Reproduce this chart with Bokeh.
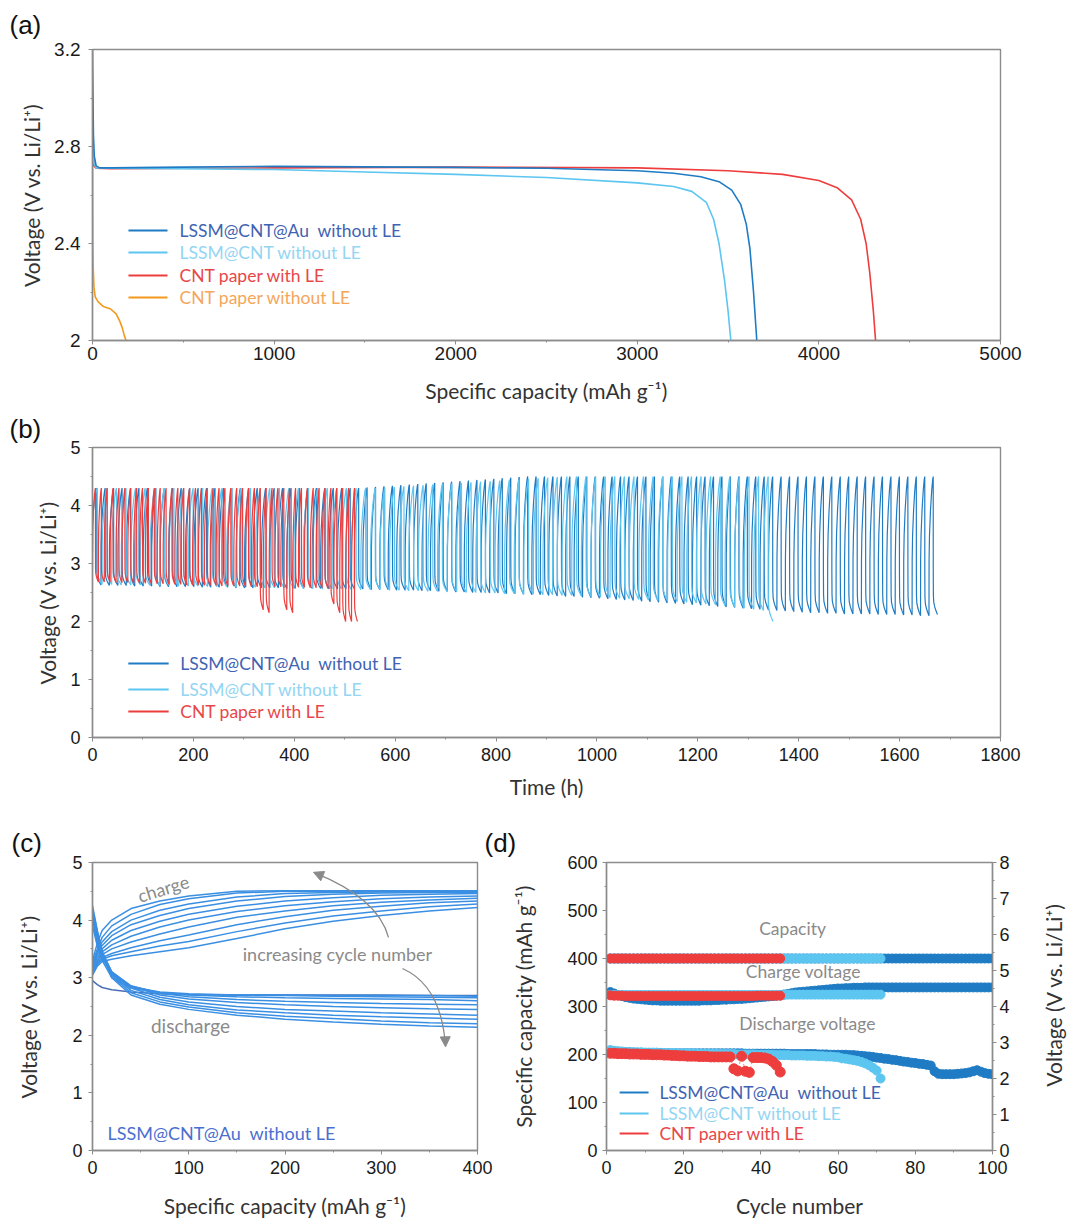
import math
from bokeh.plotting import figure
from bokeh.layouts import column, row
from bokeh.models import Range1d, LinearAxis, Label, FixedTicker, Arrow, NormalHead
from bokeh.embed import file_html
from bokeh.resources import INLINE

# ======================= DATA =======================
# (a) first discharge profiles: capacity (mAh/g) vs voltage (V)
a_au_cap = [0, 2, 5, 10, 20, 40, 100, 500, 1000, 1500, 2000, 2500, 3000, 3200, 3350, 3450, 3520, 3570, 3600, 3620, 3640, 3658]
a_au_v = [3.2, 3.05, 2.85, 2.76, 2.72, 2.712, 2.712, 2.715, 2.718, 2.716, 2.714, 2.71, 2.70, 2.69, 2.675, 2.655, 2.62, 2.56, 2.48, 2.38, 2.2, 2.0]
a_cnt_cap = [0, 3, 8, 20, 100, 500, 1000, 1500, 2000, 2500, 3000, 3200, 3300, 3380, 3420, 3450, 3480, 3500, 3515]
a_cnt_v = [2.95, 2.8, 2.73, 2.712, 2.71, 2.708, 2.705, 2.695, 2.685, 2.672, 2.65, 2.635, 2.615, 2.57, 2.5, 2.4, 2.25, 2.12, 2.0]
a_le_cap = [0, 3, 8, 20, 100, 1000, 2000, 3000, 3500, 3800, 4000, 4100, 4180, 4230, 4260, 4280, 4300, 4312]
a_le_v = [2.9, 2.78, 2.72, 2.71, 2.708, 2.712, 2.715, 2.712, 2.70, 2.685, 2.66, 2.63, 2.58, 2.5, 2.4, 2.28, 2.12, 2.0]
a_noLE_cap = [0, 1, 2, 4, 8, 15, 30, 60, 100, 130, 150, 165, 175, 185]
a_noLE_v = [2.8, 2.6, 2.4, 2.3, 2.22, 2.18, 2.16, 2.14, 2.13, 2.11, 2.08, 2.05, 2.02, 2.0]

# (b) cycling vs time: per-cycle charge-end (top) and discharge-end (bottom) voltages
b_au_period_h = 16.75
b_au_top = [4.30] * 32 + [4.31, 4.32, 4.33, 4.34, 4.35, 4.36, 4.37, 4.38, 4.39, 4.40, 4.41,
                          4.42, 4.43, 4.44, 4.45, 4.46, 4.47, 4.48, 4.49, 4.50, 4.50, 4.50] + [4.50] * 46
b_au_bottom = [2.63, 2.62, 2.62, 2.62, 2.61, 2.61, 2.61, 2.60, 2.60, 2.60,
               2.60, 2.60, 2.59, 2.59, 2.59, 2.59, 2.58, 2.58, 2.58, 2.58,
               2.58, 2.58, 2.57, 2.57, 2.57, 2.57, 2.57, 2.56, 2.56, 2.56,
               2.56, 2.56, 2.55, 2.55, 2.55, 2.54, 2.54, 2.54, 2.53, 2.53,
               2.52, 2.52, 2.51, 2.51, 2.50, 2.50, 2.49, 2.49, 2.48, 2.48,
               2.47, 2.46, 2.46, 2.45, 2.44, 2.43, 2.43, 2.42, 2.41, 2.40,
               2.39, 2.38, 2.37, 2.36, 2.35, 2.34, 2.33, 2.32, 2.31, 2.30,
               2.29, 2.28, 2.27, 2.26, 2.25, 2.24, 2.23, 2.22, 2.21, 2.20,
               2.19, 2.18, 2.17, 2.16, 2.15, 2.15, 2.14, 2.14, 2.13, 2.13,
               2.13, 2.13, 2.12, 2.12, 2.12, 2.11, 2.11, 2.10, 2.10, 2.12]
b_cnt_period_h = 19.0
b_cnt_top = [4.30] * 30 + [4.31, 4.32, 4.33, 4.34, 4.35, 4.36, 4.37, 4.38, 4.39, 4.40,
                           4.41, 4.42, 4.43, 4.44, 4.45, 4.46, 4.47, 4.48, 4.49, 4.50] + [4.50] * 21
b_cnt_bottom = [2.64, 2.64, 2.63, 2.63, 2.63, 2.62, 2.62, 2.62, 2.61, 2.61,
                2.61, 2.60, 2.60, 2.60, 2.59, 2.59, 2.59, 2.58, 2.58, 2.58,
                2.57, 2.57, 2.57, 2.56, 2.56, 2.56, 2.55, 2.55, 2.55, 2.55,
                2.54, 2.54, 2.53, 2.53, 2.52, 2.52, 2.51, 2.51, 2.50, 2.50,
                2.49, 2.49, 2.48, 2.48, 2.47, 2.47, 2.46, 2.46, 2.45, 2.45,
                2.44, 2.43, 2.42, 2.41, 2.40, 2.39, 2.38, 2.37, 2.36, 2.35,
                2.34, 2.33, 2.32, 2.30, 2.29, 2.27, 2.25, 2.23, 2.21, 2.19, 2.00]
b_le_period_h = 11.67
b_le_top = [4.30] * 45
b_le_bottom = [2.68, 2.68, 2.68, 2.67, 2.67, 2.67, 2.66, 2.66, 2.66, 2.65,
               2.65, 2.65, 2.64, 2.64, 2.64, 2.63, 2.63, 2.63, 2.62, 2.62,
               2.62, 2.61, 2.61, 2.61, 2.61, 2.60, 2.60, 2.60, 2.20, 2.15,
               2.60, 2.60, 2.20, 2.15, 2.59, 2.59, 2.58, 2.58, 2.58, 2.57,
               2.30, 2.15, 2.00, 2.00, 2.00]
# shape of one cycle: fraction of cycle time and fraction of voltage swing
cyc_charge_t = [0.0, 0.01, 0.06, 0.18, 0.32, 0.44, 0.5]
cyc_charge_f = [0.0, 0.40, 0.58, 0.76, 0.90, 0.98, 1.0]
cyc_dis_t = [0.505, 0.52, 0.56, 0.68, 0.84, 1.0]
cyc_dis_f = [0.30, 0.14, 0.09, 0.055, 0.025, 0.0]

# (c) selected charge / discharge curves of LSSM@CNT@Au without LE
c_cap = [0, 5, 10, 20, 40, 70, 100, 150, 200, 250, 300, 350, 400]
c_charge = [
    [3.05, 3.20, 3.28, 3.32, 3.38, 3.45, 3.52, 3.68, 3.85, 3.98, 4.08, 4.16, 4.22],
    [3.05, 3.22, 3.32, 3.38, 3.45, 3.55, 3.63, 3.80, 3.95, 4.07, 4.16, 4.23, 4.28],
    [3.10, 3.25, 3.35, 3.42, 3.52, 3.64, 3.74, 3.92, 4.06, 4.17, 4.24, 4.30, 4.33],
    [3.10, 3.28, 3.40, 3.50, 3.62, 3.76, 3.88, 4.05, 4.16, 4.25, 4.31, 4.35, 4.38],
    [3.15, 3.30, 3.45, 3.57, 3.72, 3.88, 4.00, 4.15, 4.25, 4.32, 4.37, 4.40, 4.42],
    [3.15, 3.35, 3.50, 3.65, 3.82, 3.98, 4.10, 4.24, 4.33, 4.39, 4.43, 4.45, 4.46],
    [3.20, 3.40, 3.56, 3.73, 3.92, 4.08, 4.20, 4.33, 4.41, 4.45, 4.47, 4.48, 4.48],
    [3.20, 3.45, 3.62, 3.80, 4.00, 4.17, 4.28, 4.40, 4.46, 4.48, 4.49, 4.49, 4.50],
    [3.25, 3.50, 3.70, 3.90, 4.10, 4.27, 4.37, 4.47, 4.50, 4.50, 4.50, 4.50, 4.50],
    [3.30, 3.60, 3.82, 4.00, 4.20, 4.33, 4.42, 4.50, 4.51, 4.51, 4.51, 4.51, 4.51],
]
c_discharge = [
    [2.95, 2.88, 2.83, 2.79, 2.75, 2.72, 2.71, 2.70, 2.70, 2.70, 2.70, 2.69, 2.69],
    [3.90, 3.55, 3.30, 3.00, 2.82, 2.74, 2.71, 2.70, 2.70, 2.69, 2.69, 2.69, 2.68],
    [4.00, 3.60, 3.35, 3.05, 2.84, 2.75, 2.72, 2.70, 2.69, 2.68, 2.67, 2.66, 2.65],
    [4.05, 3.65, 3.40, 3.08, 2.85, 2.74, 2.70, 2.67, 2.65, 2.64, 2.63, 2.62, 2.60],
    [4.10, 3.70, 3.42, 3.10, 2.86, 2.73, 2.67, 2.62, 2.59, 2.57, 2.55, 2.54, 2.53],
    [4.10, 3.72, 3.45, 3.10, 2.85, 2.70, 2.63, 2.57, 2.53, 2.50, 2.48, 2.46, 2.45],
    [4.15, 3.75, 3.45, 3.08, 2.82, 2.66, 2.58, 2.50, 2.45, 2.42, 2.39, 2.37, 2.35],
    [4.15, 3.78, 3.45, 3.05, 2.78, 2.62, 2.53, 2.44, 2.39, 2.35, 2.32, 2.30, 2.28],
    [4.20, 3.80, 3.45, 3.02, 2.74, 2.58, 2.49, 2.39, 2.33, 2.29, 2.25, 2.22, 2.20],
    [4.25, 3.82, 3.45, 3.00, 2.70, 2.54, 2.45, 2.35, 2.28, 2.23, 2.19, 2.16, 2.14],
]

# (d) per-cycle capacity and average charge / discharge voltages
d_au_cycles = list(range(1, 101))
d_au_cap = [400] * 100
d_au_charge = [4.40, 4.36, 4.32, 4.29, 4.26, 4.24, 4.22, 4.21, 4.20, 4.19,
               4.18, 4.17, 4.17, 4.16, 4.16, 4.16, 4.16, 4.16, 4.16, 4.16,
               4.16, 4.16, 4.16, 4.16, 4.17, 4.17, 4.17, 4.18, 4.18, 4.19,
               4.19, 4.20, 4.20, 4.21, 4.21, 4.22, 4.23, 4.24, 4.25, 4.26,
               4.27, 4.28, 4.29, 4.30, 4.31, 4.33, 4.35, 4.37, 4.39, 4.40,
               4.41, 4.42, 4.43, 4.44, 4.45, 4.46, 4.47, 4.48, 4.49, 4.50,
               4.50, 4.51, 4.51, 4.52, 4.52, 4.52, 4.53, 4.53, 4.53, 4.53,
               4.53, 4.53, 4.53, 4.53, 4.53, 4.53, 4.53, 4.53, 4.53, 4.53,
               4.53, 4.53, 4.53, 4.53, 4.53, 4.53, 4.53, 4.53, 4.53, 4.53,
               4.53, 4.53, 4.53, 4.53, 4.53, 4.53, 4.53, 4.53, 4.53, 4.53]
d_au_discharge = [2.74, 2.73, 2.73, 2.72, 2.72, 2.72, 2.72, 2.71, 2.71, 2.71,
                  2.71, 2.71, 2.71, 2.71, 2.70, 2.70, 2.70, 2.70, 2.70, 2.70,
                  2.70, 2.70, 2.70, 2.70, 2.70, 2.70, 2.70, 2.70, 2.70, 2.70,
                  2.70, 2.70, 2.70, 2.70, 2.70, 2.69, 2.69, 2.69, 2.69, 2.69,
                  2.69, 2.69, 2.69, 2.69, 2.69, 2.69, 2.68, 2.68, 2.68, 2.68,
                  2.68, 2.68, 2.68, 2.68, 2.67, 2.67, 2.67, 2.66, 2.66, 2.66,
                  2.66, 2.66, 2.65, 2.65, 2.64, 2.63, 2.62, 2.61, 2.60, 2.58,
                  2.57, 2.55, 2.54, 2.52, 2.51, 2.49, 2.47, 2.46, 2.44, 2.43,
                  2.41, 2.40, 2.38, 2.36, 2.20, 2.13, 2.12, 2.12, 2.12, 2.12,
                  2.13, 2.14, 2.15, 2.17, 2.20, 2.23, 2.19, 2.15, 2.13, 2.12]
d_cnt_cycles = list(range(1, 72))
d_cnt_cap = [400] * 71
d_cnt_charge = [4.32] * 45 + [4.33] * 26
d_cnt_discharge = [2.79, 2.77, 2.76, 2.75, 2.74, 2.74, 2.73, 2.73, 2.73, 2.72,
                   2.72, 2.72, 2.72, 2.71, 2.71, 2.71, 2.71, 2.70, 2.70, 2.70,
                   2.70, 2.70, 2.70, 2.69, 2.69, 2.69, 2.69, 2.69, 2.68, 2.68,
                   2.68, 2.68, 2.68, 2.67, 2.67, 2.67, 2.67, 2.67, 2.66, 2.66,
                   2.66, 2.66, 2.66, 2.65, 2.65, 2.65, 2.65, 2.64, 2.64, 2.64,
                   2.64, 2.63, 2.63, 2.63, 2.62, 2.62, 2.61, 2.61, 2.60, 2.59,
                   2.56, 2.55, 2.53, 2.51, 2.49, 2.46, 2.42, 2.37, 2.30, 2.22, 2.00]
d_le_cycles = list(range(1, 46))
d_le_cap = [400] * 45
d_le_charge = [4.31, 4.30, 4.30, 4.30, 4.29, 4.29, 4.29, 4.29, 4.29, 4.29,
               4.29, 4.29, 4.29, 4.29, 4.29, 4.29, 4.29, 4.29, 4.29, 4.29,
               4.29, 4.29, 4.29, 4.29, 4.29, 4.29, 4.29, 4.29, 4.29, 4.29,
               4.29, 4.29, 4.29, 4.29, 4.29, 4.29, 4.29, 4.29, 4.30, 4.30,
               4.30, 4.30, 4.30, 4.30, 4.30]
d_le_discharge = [2.70, 2.70, 2.69, 2.69, 2.69, 2.68, 2.68, 2.68, 2.67, 2.67,
                  2.67, 2.66, 2.66, 2.66, 2.65, 2.65, 2.64, 2.64, 2.63, 2.63,
                  2.62, 2.62, 2.62, 2.61, 2.61, 2.61, 2.60, 2.60, 2.60, 2.60,
                  2.60, 2.60, 2.27, 2.21, 2.62, 2.20, 2.17, 2.58, 2.58, 2.58,
                  2.57, 2.54, 2.47, 2.37, 2.18]

legend_labels = ["LSSM@CNT@Au\u00a0 without LE", "LSSM@CNT without LE", "CNT paper with LE", "CNT paper without LE"]

# ======================= STYLE =======================
AX = "#8c8c8c"
C_AU = "#1f7cc4"
C_CNT = "#5cc6f0"
C_LE = "#ee3d3d"
C_NOLE = "#f39a1e"
T_AU = "#3f63b3"
T_CNT = "#93d5f2"
T_LE = "#e8474a"
T_NOLE = "#f5a65b"
C_C = "#3a8fe3"
GRAY = "#8a8a8a"
FONT = "Lato"
NUMFONT = "Liberation Sans"
LEGFS = "17.5px"
AXFS = "21px"


def base_fig(w, h, l, r, t, b, xr, yr, letter, letter_offset, letter_standoff):
    p = figure(width=w, height=h, output_backend="svg", toolbar_location=None,
               x_range=Range1d(*xr), y_range=Range1d(*yr),
               min_border_left=l, min_border_right=r, min_border_top=t, min_border_bottom=b)
    p.xgrid.visible = False
    p.ygrid.visible = False
    p.outline_line_color = AX
    p.outline_line_width = 1.4
    p.background_fill_color = "white"
    p.border_fill_color = "white"
    p.title.text = letter
    p.title.align = "left"
    p.title.vertical_align = "top"
    p.title.offset = letter_offset
    p.title.standoff = letter_standoff
    p.title.text_font = NUMFONT
    p.title.text_font_size = "26px"
    p.title.text_font_style = "normal"
    p.title.text_color = "#111111"
    return p


def style_axis(ax, ticks, minor, fs, label, lfs, standoff, lstandoff):
    ax.ticker = FixedTicker(ticks=ticks, minor_ticks=minor)
    ax.axis_line_color = AX
    ax.axis_line_width = 1.4
    ax.major_tick_line_color = AX
    ax.minor_tick_line_color = AX
    ax.major_tick_in = 0
    ax.major_tick_out = 4
    ax.minor_tick_in = 0
    ax.minor_tick_out = 2
    ax.major_label_text_font = NUMFONT
    ax.major_label_text_font_size = fs
    ax.major_label_text_color = "#1a1a1a"
    ax.major_label_standoff = standoff
    ax.axis_label = label
    ax.axis_label_text_font = FONT
    ax.axis_label_text_font_style = "normal"
    ax.axis_label_text_font_size = lfs
    ax.axis_label_text_color = "#333333"
    ax.axis_label_standoff = lstandoff


def label(p, x, y, text, color, size, font=FONT, align="left", baseline="middle", angle=0.0):
    p.add_layout(Label(x=x, y=y, text=text, text_color=color, text_font=font, text_font_size=size,
                       text_align=align, text_baseline=baseline, angle=angle))


VOLT = "Voltage (V vs. Li/Li\u207a)"
SPCAP = "Specific capacity (mAh g\u207b\u00b9)"

# ======================= (a) =======================
pa = base_fig(1072, 410, 92, 72, 49, 70, (0, 5000), (2.0, 3.2), "(a)", -83, 16)
style_axis(pa.xaxis[0], [0, 1000, 2000, 3000, 4000, 5000], [500, 1500, 2500, 3500, 4500], "19px",
           SPCAP, AXFS, 2, 15)
style_axis(pa.yaxis[0], [2.0, 2.4, 2.8, 3.2], [2.2, 2.6, 3.0], "19px", VOLT, AXFS, 8, 7)
pa.yaxis[0].major_label_overrides = {2.0: "2", 2.4: "2.4", 2.8: "2.8", 3.2: "3.2"}
pa.line(a_noLE_cap, a_noLE_v, color=C_NOLE, line_width=1.6)
pa.line(a_le_cap, a_le_v, color=C_LE, line_width=1.6)
pa.line(a_cnt_cap, a_cnt_v, color=C_CNT, line_width=1.6)
pa.line(a_au_cap, a_au_v, color=C_AU, line_width=1.6)
a_leg_y = [2.454, 2.363, 2.268, 2.177]
for yy, lc, tc, txt in zip(a_leg_y, [C_AU, C_CNT, C_LE, C_NOLE], [T_AU, T_CNT, T_LE, T_NOLE], legend_labels):
    pa.segment(x0=198, y0=yy, x1=413, y1=yy, color=lc, line_width=2)
    label(pa, 479, yy, txt, tc, LEGFS)

# ======================= (b) =======================


def build_wave(period, tops, bottoms, start_v):
    t, v = [], []
    prev = start_v
    for k, (top, bot) in enumerate(zip(tops, bottoms)):
        t0 = k * period
        for f, h in zip(cyc_charge_t, cyc_charge_f):
            t.append(t0 + f * period)
            v.append(prev + h * (top - prev))
        for f, g in zip(cyc_dis_t, cyc_dis_f):
            t.append(t0 + f * period)
            v.append(bot + g * (top - bot))
        prev = bot
    return t, v


pb = base_fig(1072, 410, 92, 72, 37, 83, (0, 1800), (0, 5), "(b)", -83, 4)
style_axis(pb.xaxis[0], list(range(0, 1801, 200)), list(range(100, 1800, 200)), "18px", "Time (h)", AXFS, 6, 10)
style_axis(pb.yaxis[0], [0, 1, 2, 3, 4, 5], [0.5, 1.5, 2.5, 3.5, 4.5], "18px", VOLT, AXFS, 8, 7)
tb, vb = build_wave(b_au_period_h, b_au_top, b_au_bottom, 3.2)
pb.line(tb, vb, color=C_AU, line_width=1.2)
tc_, vc_ = build_wave(b_cnt_period_h, b_cnt_top, b_cnt_bottom, 3.3)
pb.line(tc_, vc_, color=C_CNT, line_width=1.2)
tl, vl = build_wave(b_le_period_h, b_le_top, b_le_bottom, 2.9)
pb.line(tl, vl, color=C_LE, line_width=1.2)
b_leg_y = [1.276, 0.828, 0.448]
for yy, lc, tcol, txt in zip(b_leg_y, [C_AU, C_CNT, C_LE], [T_AU, T_CNT, T_LE], legend_labels[:3]):
    pb.segment(x0=71, y0=yy, x1=151, y1=yy, color=lc, line_width=2)
    label(pb, 174, yy, txt, tcol, LEGFS)

# ======================= (c) =======================
pc = base_fig(520, 403, 92, 43, 42, 73, (0, 400), (0, 5), "(c)", -81, 6)
style_axis(pc.xaxis[0], [0, 100, 200, 300, 400], [50, 150, 250, 350], "18px", SPCAP, AXFS, 6, 16)
style_axis(pc.yaxis[0], [0, 1, 2, 3, 4, 5], [0.5, 1.5, 2.5, 3.5, 4.5], "18px", VOLT, AXFS, 6, 28)
for curve in c_charge:
    pc.line(c_cap, curve, color=C_C, line_width=1.5)
for i, curve in enumerate(c_discharge):
    pc.line(c_cap, curve, color=("#4a6fb8" if i == 0 else C_C), line_width=1.5)
label(pc, 73.5, 4.55, "charge", GRAY, "18px", align="center", angle=0.3)
label(pc, 254.5, 3.42, "increasing cycle number", GRAY, "18px", align="center")
label(pc, 101.8, 2.17, "discharge", GRAY, "19px", align="center")
label(pc, 15.6, 0.31, "LSSM@CNT@Au\u00a0 without LE", "#4a6fd0", "18px")
pc.quadratic(x0=307.5, y0=3.70, x1=231.0, y1=4.82, cx=297.0, cy=4.375, color=GRAY, line_width=1.3)
pc.add_layout(Arrow(end=NormalHead(size=10, fill_color=GRAY, line_color=GRAY),
                    x_start=236.0, y_start=4.785, x_end=229.6, y_end=4.83, line_color=GRAY, line_width=1.3))
pc.quadratic(x0=322.0, y0=3.16, x1=366.5, y1=1.86, cx=361.6, cy=2.865, color=GRAY, line_width=1.3)
pc.add_layout(Arrow(end=NormalHead(size=10, fill_color=GRAY, line_color=GRAY),
                    x_start=366.6, y_start=1.9, x_end=366.8, y_end=1.80, line_color=GRAY, line_width=1.3))

# ======================= (d) =======================
pd_ = base_fig(562, 403, 126, 50, 42, 73, (0, 100), (0, 600), "(d)", -122, 6)
pd_.border_fill_color = None
pd_.styles = {"margin-left": "-40px"}
pd_.extra_y_ranges = {"v": Range1d(0, 8)}
right = LinearAxis(y_range_name="v")
pd_.add_layout(right, "right")
style_axis(pd_.xaxis[0], [0, 20, 40, 60, 80, 100], [10, 30, 50, 70, 90], "18px", "Cycle number", AXFS, 6, 16)
style_axis(pd_.yaxis[0], [0, 100, 200, 300, 400, 500, 600], [50, 150, 250, 350, 450, 550], "18px", SPCAP, AXFS, 5, 28)
style_axis(right, [0, 1, 2, 3, 4, 5, 6, 7, 8], [0.5, 1.5, 2.5, 3.5, 4.5, 5.5, 6.5, 7.5], "18px", "", AXFS, 3, 0)
MS = 9
for cyc, cap, ch, dis, col in [(d_au_cycles, d_au_cap, d_au_charge, d_au_discharge, C_AU),
                               (d_cnt_cycles, d_cnt_cap, d_cnt_charge, d_cnt_discharge, C_CNT)]:
    pd_.scatter(cyc, cap, size=MS, color=col, marker="circle")
    pd_.scatter(cyc, ch, size=MS, color=col, marker="circle", y_range_name="v")
    pd_.scatter(cyc, dis, size=MS, color=col, marker="circle", y_range_name="v")
pd_.line(d_le_cycles, d_le_discharge, color="#f08a8a", line_width=1, line_dash="2 2", y_range_name="v")
pd_.scatter(d_le_cycles, d_le_cap, size=MS, color=C_LE, marker="circle")
pd_.scatter(d_le_cycles, d_le_charge, size=MS, color=C_LE, marker="circle", y_range_name="v")
pd_.scatter(d_le_cycles, d_le_discharge, size=MS + 1, color=C_LE, marker="circle", y_range_name="v")
label(pd_, 48.2, 462.5, "Capacity", GRAY, "17.5px", align="center")
label(pd_, 51.0, 372.9, "Charge voltage", GRAY, "17.5px", align="center")
label(pd_, 52.1, 264.6, "Discharge voltage", GRAY, "17.5px", align="center")
d_leg_y = [120.8, 77.1, 35.4]
for yy, lc, tcol, txt in zip(d_leg_y, [C_AU, C_CNT, C_LE], [T_AU, T_CNT, T_LE], legend_labels[:3]):
    pd_.segment(x0=3.4, y0=yy, x1=10.9, y1=yy, color=lc, line_width=2)
    label(pd_, 13.7, yy, txt, tcol, LEGFS)

# narrow strip holding the right-hand axis title of (d), read bottom-to-top
pe = figure(width=30, height=403, output_backend="svg", toolbar_location=None, title=None,
            x_range=Range1d(0, 1), y_range=Range1d(0, 403), min_border=0)
pe.axis.visible = False
pe.xgrid.visible = False
pe.ygrid.visible = False
pe.outline_line_color = None
pe.border_fill_color = None
pe.background_fill_color = None
pe.add_layout(Label(x=0.35, y=218, text=VOLT, text_color="#333333", text_font=FONT, text_font_size=AXFS,
                    text_align="center", text_baseline="middle", angle=math.pi / 2))

layout = column(pa, pb, row(pc, pd_, pe))
open("out.html", "w").write(file_html(layout, INLINE))
